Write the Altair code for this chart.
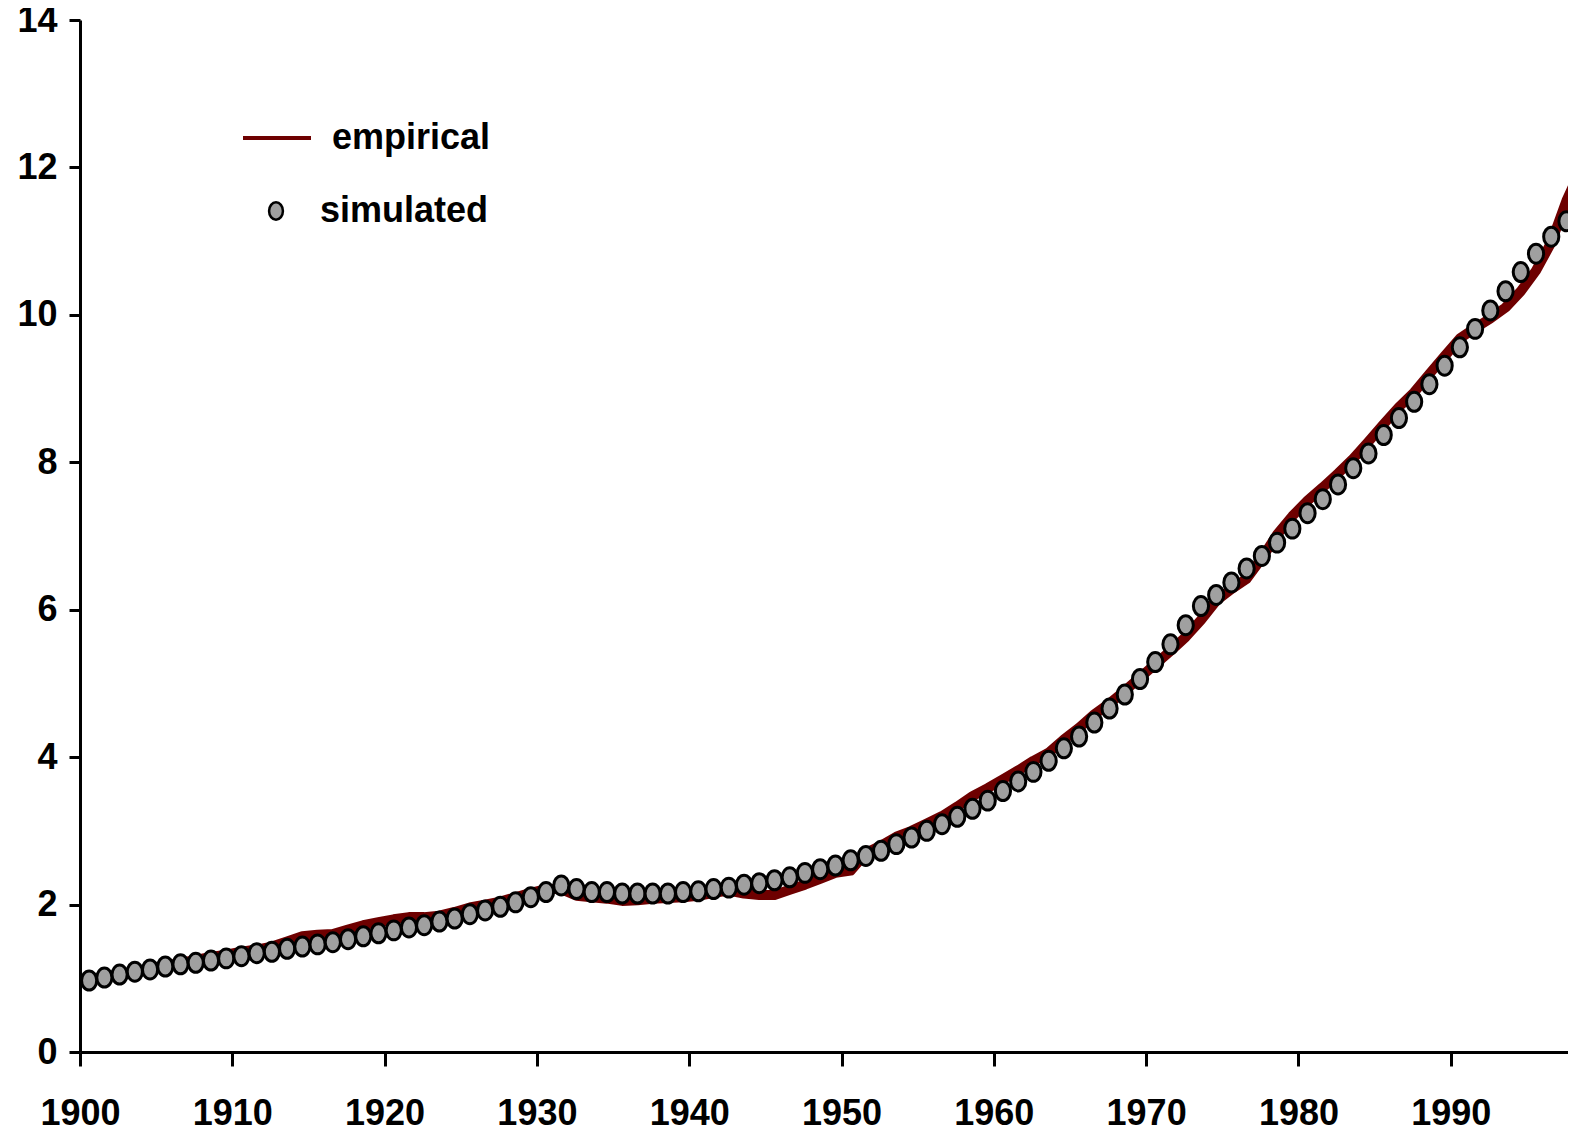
import altair as alt
import pandas as pd

years = list(range(1900, 1999))

simulated = [
    0.97, 1.01, 1.05, 1.09, 1.12, 1.16, 1.19, 1.21, 1.24, 1.27,
    1.30, 1.34, 1.36, 1.40, 1.43, 1.46, 1.49, 1.53, 1.57, 1.61,
    1.65, 1.69, 1.72, 1.77, 1.81, 1.87, 1.92, 1.97, 2.03, 2.10,
    2.17, 2.26, 2.21, 2.17, 2.17, 2.15, 2.15, 2.15, 2.15, 2.17,
    2.18, 2.21, 2.23, 2.27, 2.29, 2.33, 2.37, 2.43, 2.48, 2.53,
    2.60, 2.66, 2.73, 2.82, 2.91, 3.00, 3.09, 3.19, 3.30, 3.41,
    3.54, 3.67, 3.80, 3.95, 4.12, 4.28, 4.47, 4.66, 4.85, 5.06,
    5.29, 5.53, 5.79, 6.05, 6.20, 6.37, 6.56, 6.73, 6.91, 7.10,
    7.31, 7.50, 7.70, 7.92, 8.12, 8.37, 8.60, 8.82, 9.06, 9.31,
    9.56, 9.81, 10.06, 10.32, 10.58, 10.83, 11.06, 11.27, 11.48,
]

empirical = [
    0.97, 1.01, 1.05, 1.09, 1.13, 1.17, 1.21, 1.25, 1.29, 1.32,
    1.36, 1.39, 1.43, 1.50, 1.57, 1.59, 1.60, 1.66, 1.72, 1.76,
    1.80, 1.83, 1.83, 1.85, 1.90, 1.96, 2.00, 2.04, 2.10, 2.16,
    2.21, 2.21, 2.12, 2.10, 2.08, 2.05, 2.06, 2.08, 2.09, 2.10,
    2.12, 2.16, 2.19, 2.15, 2.13, 2.13, 2.20, 2.27, 2.35, 2.43,
    2.46, 2.70, 2.80, 2.92, 3.00, 3.10, 3.20, 3.33, 3.47, 3.58,
    3.70, 3.82, 3.95, 4.06, 4.24, 4.40, 4.58, 4.73, 4.90, 5.08,
    5.26, 5.44, 5.63, 5.86, 6.12, 6.28, 6.42, 6.70, 7.02, 7.27,
    7.48, 7.66, 7.85, 8.05, 8.28, 8.52, 8.75, 8.95, 9.20, 9.44,
    9.68, 9.82, 9.95, 10.10, 10.32, 10.60, 10.98, 11.55, 12.00,
]

x_ticks = [1900, 1910, 1920, 1930, 1940, 1950, 1960, 1970, 1980, 1990]
y_ticks = [0, 2, 4, 6, 8, 10, 12, 14]

# values are plotted at mid-year positions
offset = 0.6
emp_df = pd.DataFrame({"x": [y + offset for y in years], "value": empirical, "series": "empirical"})
sim_df = pd.DataFrame({"x": [y + offset for y in years], "value": simulated, "series": "simulated"})

FONT = "Liberation Sans"
# slightly tall ellipse marker (cubic Bezier approximation), as in the original
ELLIPSE = (
    "M -0.8,0 C -0.8,-0.5523 -0.4418,-1 0,-1 "
    "C 0.4418,-1 0.8,-0.5523 0.8,0 "
    "C 0.8,0.5523 0.4418,1 0,1 "
    "C -0.4418,1 -0.8,0.5523 -0.8,0 Z"
)

x_enc = alt.X(
    "x:Q",
    scale=alt.Scale(domain=[1900, 1997.7], nice=False, zero=False),
    axis=alt.Axis(
        values=x_ticks, format="d", title=None, grid=False,
        labelFont=FONT, labelFontSize=36, labelFontWeight="bold", labelColor="black",
        tickSize=14, tickWidth=3, tickColor="black",
        domainWidth=3, domainColor="black", labelPadding=30,
        labelFlush=False, labelOverlap=False,
    ),
)
y_enc = alt.Y(
    "value:Q",
    scale=alt.Scale(domain=[0, 14], nice=False),
    axis=alt.Axis(
        values=y_ticks, title=None, grid=False,
        labelFont=FONT, labelFontSize=36, labelFontWeight="bold", labelColor="black",
        tickSize=11, tickWidth=3, tickColor="black",
        domainWidth=3, domainColor="black", labelPadding=12,
        labelFlush=False, labelOverlap=False,
    ),
)

legend_text = dict(
    labelFont=FONT, labelFontSize=36, labelFontWeight="bold", labelColor="black",
    labelLimit=0, padding=0, title=None, orient="none",
)

line = alt.Chart(emp_df).mark_line(strokeWidth=10, clip=True, strokeJoin="round").encode(
    x=x_enc,
    y=y_enc,
    stroke=alt.Stroke(
        "series:N",
        scale=alt.Scale(domain=["empirical"], range=["#6e0000"]),
        legend=alt.Legend(
            legendX=161, legendY=82,
            symbolType="stroke", symbolSize=4624, symbolStrokeWidth=4,
            labelOffset=19, **legend_text,
        ),
    ),
)

points = alt.Chart(sim_df).mark_point(
    shape=ELLIPSE, filled=True, size=360, stroke="black", strokeWidth=3,
    opacity=1, clip=True,
).encode(
    x=x_enc,
    y=y_enc,
    fill=alt.Fill(
        "series:N",
        scale=alt.Scale(domain=["simulated"], range=["#a0a0a0"]),
        legend=alt.Legend(
            legendX=178, legendY=173,
            symbolType=ELLIPSE, symbolSize=300, symbolStrokeColor="black",
            symbolStrokeWidth=2.5, symbolOpacity=1,
            labelOffset=26, **legend_text,
        ),
    ),
)

chart = (
    alt.layer(line, points)
    .resolve_scale(stroke="independent", fill="independent")
    .properties(
        width=1488,
        height=1032,
        autosize=alt.AutoSizeParams(type="none"),
        padding={"left": 72, "top": 12, "right": 0, "bottom": 73},
        background="white",
    )
    .configure_view(stroke=None)
)

chart.save("out.html", embed_options={"renderer": "svg", "actions": False})
